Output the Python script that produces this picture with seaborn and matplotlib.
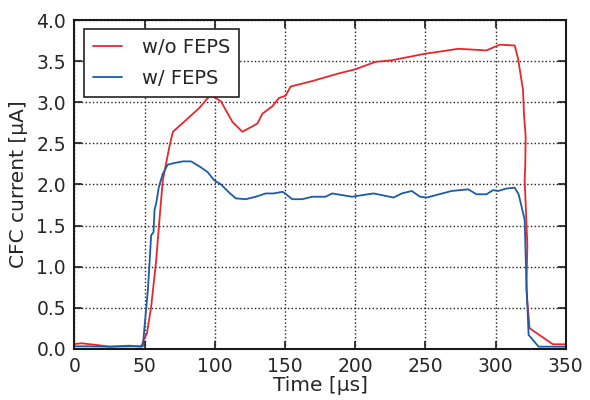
import numpy as np
import pandas as pd
import matplotlib
matplotlib.use("Agg")
import matplotlib.pyplot as plt
import seaborn as sns

# time [us] and current [uA]
t_red = [0, 5, 16, 25, 39, 47.6, 50, 51.7, 54.7, 58.3, 60.6, 63, 67.7, 70.2, 80, 89,
         97, 104.4, 112.6, 119.7, 130.4, 133.9, 141, 145.7, 150.5, 154, 170, 188.3,
         200, 214.3, 226, 238, 249.8, 262, 273.4, 293.5, 303, 313.6, 316, 319.5,
         320.2, 321.4, 321.1, 320.7, 322.6, 321.9, 324.2, 340.8, 350]
v_red = [0.058, 0.067, 0.046, 0.026, 0.038, 0.026, 0.13, 0.19, 0.51, 1.08, 1.57, 2.05,
         2.46, 2.64, 2.79, 2.93, 3.09, 3.01, 2.76, 2.64, 2.74, 2.86, 2.95, 3.05, 3.08,
         3.19, 3.26, 3.35, 3.40, 3.49, 3.51, 3.55, 3.59, 3.62, 3.65, 3.63, 3.70, 3.69,
         3.53, 3.15, 2.86, 2.58, 2.22, 2.05, 1.26, 0.72, 0.25, 0.055, 0.055]

t_blue = [0, 10, 25, 40, 48.8, 50, 52.4, 54.7, 56.4, 57.1, 58.3, 60.2, 63, 66.5, 71.3,
          77.2, 83.1, 89, 94.9, 99.6, 104.4, 110.3, 115, 122.1, 129.2, 136.3, 142,
          148.1, 149.3, 155.2, 162.3, 169.4, 178.9, 183.6, 197.7, 213.1, 227.3, 233.2,
          240.3, 246.2, 250.9, 268.7, 280.5, 286.4, 293.5, 298.2, 301.8, 307.7, 313.6,
          316.4, 320.7, 321.9, 323.5, 330.6, 350]
v_blue = [0.03, 0.03, 0.026, 0.03, 0.03, 0.27, 0.72, 1.38, 1.42, 1.69, 1.77, 1.97, 2.13,
          2.24, 2.26, 2.28, 2.28, 2.22, 2.15, 2.05, 2.0, 1.90, 1.83, 1.82, 1.85, 1.89,
          1.89, 1.91, 1.90, 1.82, 1.82, 1.85, 1.85, 1.89, 1.85, 1.89, 1.84, 1.89, 1.92,
          1.85, 1.84, 1.92, 1.94, 1.88, 1.88, 1.93, 1.92, 1.95, 1.96, 1.88, 1.57, 0.84,
          0.17, 0.026, 0.026]

labels = ["w/o FEPS", "w/ FEPS"]
colors = ["#e8262b", "#1a5ca8"]

df = pd.concat([
    pd.DataFrame({"t": t_red, "v": v_red, "case": labels[0]}),
    pd.DataFrame({"t": t_blue, "v": v_blue, "case": labels[1]}),
])

sns.set_style("ticks")
plt.rcParams["font.family"] = ["DejaVu Sans"]
plt.rcParams["axes.edgecolor"] = "#1a1a1a"
plt.rcParams["xtick.color"] = "#1a1a1a"
plt.rcParams["ytick.color"] = "#1a1a1a"

fig = plt.figure(figsize=(5.9, 4.0), dpi=100)
ax = fig.add_axes([0.126, 0.128, 0.833, 0.822])

sns.lineplot(data=df, x="t", y="v", hue="case", palette=colors, sort=False,
             estimator=None, units="case", lw=1.3, ax=ax)

ax.set_xlim(0, 350)
ax.set_ylim(0, 4.0)
ax.set_xticks(np.arange(0, 351, 50))
ax.set_yticks(np.arange(0, 4.01, 0.5))
ax.set_yticklabels([f"{v:.1f}" for v in np.arange(0, 4.01, 0.5)])
ax.grid(True, color="#222222", linestyle=":", linewidth=1.0)
ax.tick_params(direction="in", top=True, right=True, length=6, width=1.2,
               labelsize=13.5, pad=6, labelcolor="#262626")
for s in ax.spines.values():
    s.set_linewidth(1.5)
    s.set_visible(True)

ax.set_xlabel("Time [µs]", fontsize=14.5, color="#262626", labelpad=0)
ax.set_ylabel("CFC current [µA]", fontsize=14.5, color="#262626", labelpad=6)

leg = ax.legend(loc="upper left", fontsize=14, frameon=True, fancybox=False,
                handlelength=1.5, handletextpad=1.0, borderpad=0.45,
                labelspacing=0.65, borderaxespad=0,
                bbox_to_anchor=(0.02, 0.973))
leg.get_frame().set_edgecolor("#222222")
leg.get_frame().set_linewidth(1.2)
leg.get_frame().set_alpha(1.0)
leg.set_title(None)

fig.savefig("out.png", dpi=100)
